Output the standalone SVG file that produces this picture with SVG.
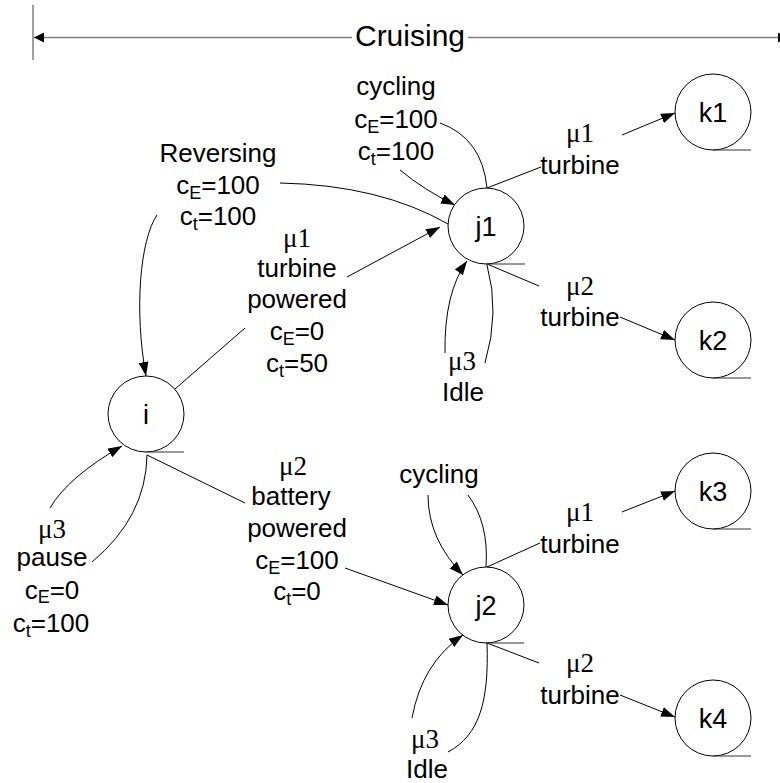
<svg xmlns="http://www.w3.org/2000/svg" width="780" height="783" viewBox="0 0 780 783">
<style>
.t{font-family:"Liberation Sans",Arial,sans-serif;font-size:26px;fill:#000;text-anchor:middle}
.m{font-family:"Liberation Serif","Times New Roman",serif;font-size:27px;fill:#000;text-anchor:middle}
.n{font-family:"Liberation Sans",Arial,sans-serif;font-size:27px;fill:#000;text-anchor:middle}
.s{font-size:18px}
.node circle{fill:#fff;stroke:#000;stroke-width:1}
.node line{stroke:#333;stroke-width:1}
.e{fill:none;stroke:#000;stroke-width:1}
.a{marker-end:url(#arr)}
.h{fill:none;stroke:#808080;stroke-width:1.5}
</style>
<defs>
<marker id="arr" markerUnits="userSpaceOnUse" markerWidth="15" markerHeight="11" refX="14" refY="5" orient="auto">
<path d="M0,0 L14,5 L0,10 z" fill="#000"/>
</marker>
<marker id="harr" markerUnits="userSpaceOnUse" markerWidth="11" markerHeight="10" refX="10" refY="5" orient="auto">
<path d="M0,0 L10,5 L0,10 z" fill="#000"/>
</marker>
</defs>
<rect width="780" height="783" fill="#fff"/>
<g id="header">
<line class="h" x1="33" y1="5" x2="33" y2="60"/>
<line class="h" x1="352" y1="37.5" x2="34" y2="37.5" marker-end="url(#harr)"/>
<line class="h" x1="468" y1="37.5" x2="788" y2="37.5" marker-end="url(#harr)"/>
<text x="410" y="46" style="font-family:'Liberation Sans',Arial,sans-serif;font-size:30px;text-anchor:middle">Cruising</text>
</g>
<g id="connectors">
<path class="e" d="M487,188 L541,167"/>
<path class="e a" d="M622,135 L675,113"/>
<path class="e" d="M487,264 L539,286"/>
<path class="e a" d="M620,317 L675,340"/>
<path class="e" d="M487,188 Q482,138 440,123"/>
<path class="e a" d="M400,170 Q424,190 455,205"/>
<path class="e" d="M487,265 Q500,312 485,363"/>
<path class="e a" d="M445,353 Q444,293 467,261"/>
<path class="e" d="M448,224 Q380,185 280,183"/>
<path class="e a" d="M157,215 C140,240 134,310 146,376"/>
<path class="e" d="M175,389 L245,328"/>
<path class="e a" d="M347,277 L440,227"/>
<path class="e" d="M147,455 L245,503"/>
<path class="e a" d="M345,568 L448,605"/>
<path class="e" d="M147,455 Q146,517 92,562"/>
<path class="e a" d="M50,508 Q68,477 122,446"/>
<path class="e a" d="M428,495 Q428,539 463,575"/>
<path class="e" d="M486,567 Q489,523 468,495"/>
<path class="e" d="M487,567 L540,543"/>
<path class="e a" d="M622,512 L675,491"/>
<path class="e" d="M487,643 L539,663"/>
<path class="e a" d="M620,695 L675,717"/>
<path class="e a" d="M412,718 Q422,663 463,635"/>
<path class="e" d="M487,643 C489,700 480,735 448,752"/>
</g>
<g id="labels">
<text class="t" x="396" y="95">cycling</text>
<text class="t" x="396" y="128">c<tspan class="s" dy="5">E</tspan><tspan dy="-5">=100</tspan></text>
<text class="t" x="396" y="160">c<tspan class="s" dy="5">t</tspan><tspan dy="-5">=100</tspan></text>
<text class="t" x="218" y="162">Reversing</text>
<text class="t" x="218" y="194">c<tspan class="s" dy="5">E</tspan><tspan dy="-5">=100</tspan></text>
<text class="t" x="218" y="225">c<tspan class="s" dy="5">t</tspan><tspan dy="-5">=100</tspan></text>
<text class="m" x="297" y="247">μ1</text>
<text class="t" x="297" y="277">turbine</text>
<text class="t" x="297" y="308">powered</text>
<text class="t" x="297" y="340">c<tspan class="s" dy="5">E</tspan><tspan dy="-5">=0</tspan></text>
<text class="t" x="297" y="372">c<tspan class="s" dy="5">t</tspan><tspan dy="-5">=50</tspan></text>
<text class="m" x="580" y="142">μ1</text>
<text class="t" x="580" y="174">turbine</text>
<text class="m" x="580" y="295">μ2</text>
<text class="t" x="580" y="326">turbine</text>
<text class="m" x="462" y="370">μ3</text>
<text class="t" x="463" y="401">Idle</text>
<text class="m" x="52" y="538">μ3</text>
<text class="t" x="52" y="566">pause</text>
<text class="t" x="52" y="599">c<tspan class="s" dy="4">E</tspan><tspan dy="-4">=0</tspan></text>
<text class="t" x="51" y="632">c<tspan class="s" dy="5">t</tspan><tspan dy="-5">=100</tspan></text>
<text class="m" x="293" y="475">μ2</text>
<text class="t" x="291" y="505">battery</text>
<text class="t" x="297" y="537">powered</text>
<text class="t" x="297" y="569">c<tspan class="s" dy="5">E</tspan><tspan dy="-5">=100</tspan></text>
<text class="t" x="297" y="600">c<tspan class="s" dy="5">t</tspan><tspan dy="-5">=0</tspan></text>
<text class="t" x="439" y="483">cycling</text>
<text class="m" x="580" y="521">μ1</text>
<text class="t" x="580" y="553">turbine</text>
<text class="m" x="580" y="672">μ2</text>
<text class="t" x="580" y="704">turbine</text>
<text class="m" x="425" y="748">μ3</text>
<text class="t" x="427" y="778">Idle</text>
</g>
<g id="node-i" class="node"><circle cx="146" cy="414" r="38"/><line x1="146" y1="452" x2="184" y2="452"/><text class="n" x="146" y="424">i</text></g>
<g id="node-j1" class="node"><circle cx="486" cy="226" r="38"/><line x1="486" y1="264" x2="525" y2="264"/><text class="n" x="486" y="236">j1</text></g>
<g id="node-j2" class="node"><circle cx="486" cy="605" r="38"/><line x1="486" y1="643" x2="524" y2="643"/><text class="n" x="486" y="615">j2</text></g>
<g id="node-k1" class="node"><circle cx="713" cy="112" r="38"/><line x1="713" y1="150" x2="751" y2="150"/><text class="n" x="713" y="122">k1</text></g>
<g id="node-k2" class="node"><circle cx="713" cy="340" r="38"/><line x1="713" y1="378" x2="751" y2="378"/><text class="n" x="713" y="350">k2</text></g>
<g id="node-k3" class="node"><circle cx="713" cy="491" r="38"/><line x1="713" y1="529" x2="751" y2="529"/><text class="n" x="713" y="501">k3</text></g>
<g id="node-k4" class="node"><circle cx="713" cy="718" r="38"/><line x1="713" y1="756" x2="751" y2="756"/><text class="n" x="713" y="728">k4</text></g>
</svg>
